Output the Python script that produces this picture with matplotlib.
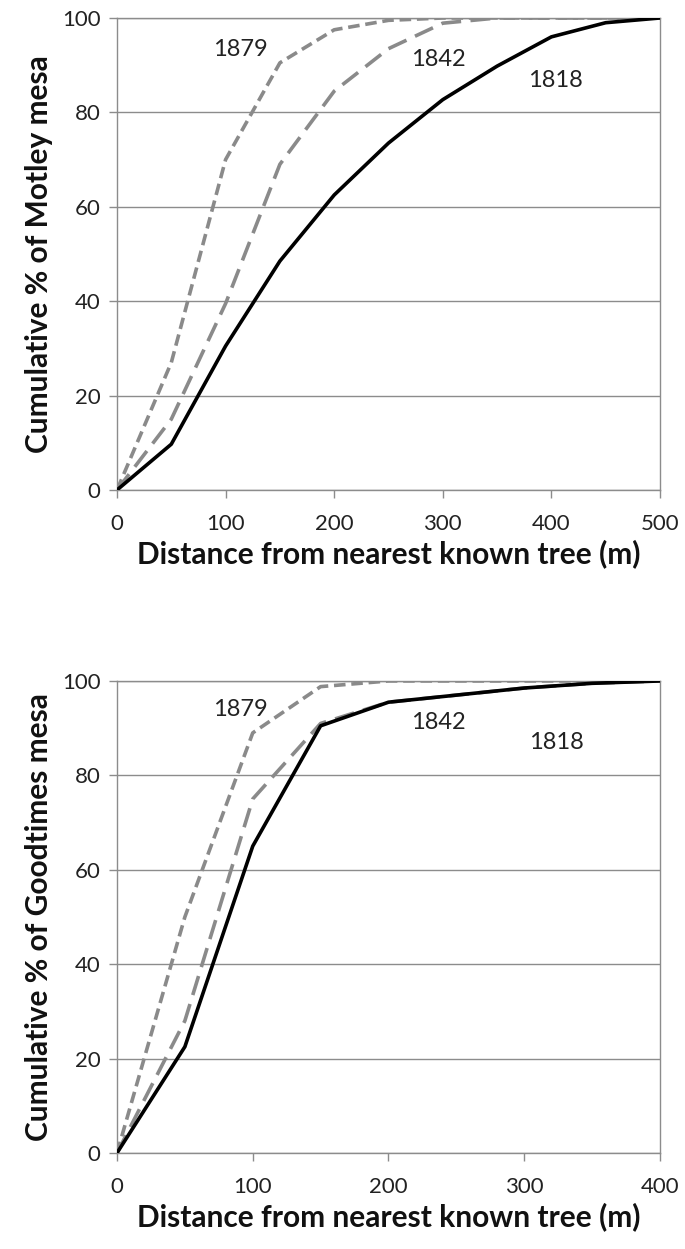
import matplotlib
matplotlib.use("Agg")
import matplotlib.pyplot as plt

plt.rcParams["font.family"] = ["Lato", "DejaVu Sans"]

# Motley mesa: cumulative % of area by distance from nearest known tree
motley_dist = [0, 50, 100, 150, 200, 250, 300, 350, 400, 450, 500]
motley_1818 = [0, 9.7, 30.5, 48.5, 62.5, 73.5, 82.7, 89.8, 96, 99, 100]
motley_1842 = [0, 15, 39.5, 69, 84.5, 93.5, 98.9, 100, 100, 100, 100]
motley_1879 = [0, 27, 70, 90.5, 97.5, 99.5, 100, 100, 100, 100, 100]

# Goodtimes mesa
good_dist = [0, 50, 100, 150, 200, 250, 300, 350, 400]
good_1818 = [0, 22.5, 65, 90.5, 95.5, 97, 98.5, 99.5, 100]
good_1842 = [0, 28, 75, 91, 95.5, 97, 98.5, 99.5, 100]
good_1879 = [0, 50, 89, 98.8, 100, 100, 100, 100, 100]

motley_xticks = [0, 100, 200, 300, 400, 500]
good_xticks = [0, 100, 200, 300, 400]
yticks = [0, 20, 40, 60, 80, 100]

GRID = "#8c8c8c"
DASH_GREY = "#8a8a8a"


def draw_panel(ax, dist, s1818, s1842, s1879, xticks, ylabel, label_pos):
    ax.plot(dist, s1879, color=DASH_GREY, lw=2.6, dashes=(3.2, 1.6), zorder=3)
    ax.plot(dist, s1842, color=DASH_GREY, lw=2.6, dashes=(5.5, 2.6), zorder=3)
    ax.plot(dist, s1818, color="black", lw=2.6, zorder=4)

    ax.set_xlim(xticks[0], xticks[-1])
    ax.set_ylim(0, 100)
    ax.set_xticks(xticks)
    ax.set_yticks(yticks)
    ax.yaxis.grid(True, color=GRID, lw=1.0)
    ax.set_axisbelow(True)
    for side in ax.spines.values():
        side.set_color(GRID)
        side.set_linewidth(1.0)
    ax.tick_params(axis="both", colors=GRID, length=6, width=1.0,
                   labelcolor="#222222", labelsize=16)
    ax.tick_params(axis="x", pad=11)
    ax.tick_params(axis="y", pad=6)

    ax.set_xlabel("Distance from nearest known tree (m)", fontsize=21.5,
                  fontweight="bold", color="#111111", labelpad=4)
    ax.set_ylabel(ylabel, fontsize=21.5, fontweight="bold", color="#111111",
                  labelpad=6)

    for text, (x, y) in label_pos.items():
        ax.text(x, y, text, fontsize=17, color="#222222", ha="center",
                va="center", zorder=5)


fig = plt.figure(figsize=(6.85, 12.49), dpi=100)
ax_top = fig.add_axes([0.1708, 0.6077, 0.7927, 0.3779])
ax_bot = fig.add_axes([0.1708, 0.0769, 0.7927, 0.3779])

draw_panel(ax_top, motley_dist, motley_1818, motley_1842, motley_1879,
           motley_xticks, "Cumulative % of Motley mesa",
           {"1879": (114, 93.4), "1842": (296, 91.3), "1818": (404, 86.7)})
draw_panel(ax_bot, good_dist, good_1818, good_1842, good_1879,
           good_xticks, "Cumulative % of Goodtimes mesa",
           {"1879": (91, 93.9), "1842": (237, 91.1), "1818": (324, 86.9)})

fig.savefig("out.png", dpi=100)
